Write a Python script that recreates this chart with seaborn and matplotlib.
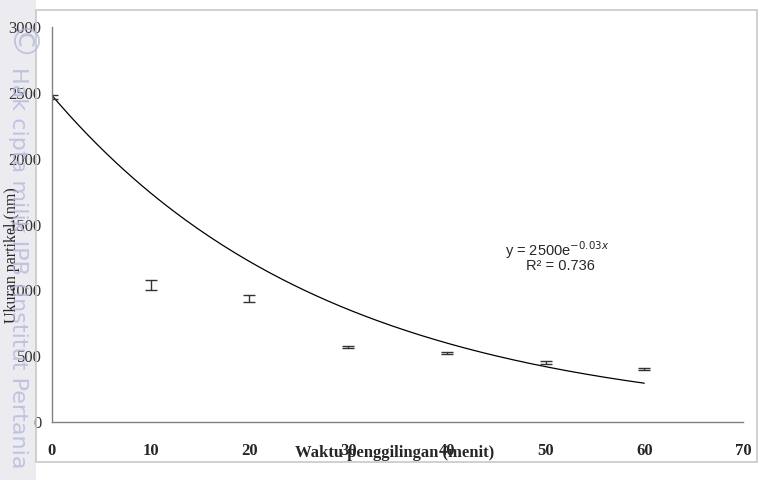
import numpy as np
import pandas as pd
import matplotlib
matplotlib.use("Agg")
import matplotlib.pyplot as plt
import seaborn as sns
from matplotlib.patches import Rectangle

# Data
waktu = [0, 10, 20, 30, 40, 50, 60]
ukuran = [2468, 1040, 938, 570, 524, 450, 403]
galat = [15, 38, 27, 5, 5, 10, 10]

# Exponential trend line as it is drawn in the figure
trend_a = 2480
trend_b = -0.0355
x_ticks = [0, 10, 20, 30, 40, 50, 60, 70]
y_ticks = [0, 500, 1000, 1500, 2000, 2500, 3000]

sns.set_style("white")
plt.rcParams['font.family'] = ['Liberation Serif', 'DejaVu Serif']

fig = plt.figure(figsize=(7.68, 4.8), dpi=100)
ax = fig.add_axes([52 / 768, 1 - 422 / 480, 691 / 768, 395 / 480])

# chart border and watermark strip
fig.patches.append(Rectangle((36 / 768, 18 / 480), 721 / 768, 452 / 480, transform=fig.transFigure,
                             fill=False, edgecolor='#c8c8c8', linewidth=1.2))
fig.patches.append(Rectangle((0, 0), 36 / 768, 1, transform=fig.transFigure,
                             facecolor='#ececf0', edgecolor='none', zorder=-1))
fig.text(18 / 768, 1 - 45 / 480, '©', rotation=-90, ha='center', va='center', fontsize=26,
         color='#b4b8dc', alpha=0.8, family=['DejaVu Sans'], zorder=5)
fig.text(18 / 768, 1 - 268 / 480, 'Hak cipta milik IPB (Institut Pertania', rotation=-90,
         ha='center', va='center', fontsize=16, color='#b4b8dc', alpha=0.8,
         family=['DejaVu Sans'], zorder=5)

xs = np.linspace(0, 60, 200)
df_trend = pd.DataFrame({'x': xs, 'y': trend_a * np.exp(trend_b * xs)})
sns.lineplot(data=df_trend, x='x', y='y', ax=ax, color='black', linewidth=0.9)

ax.errorbar(waktu, ukuran, yerr=galat, fmt='none', ecolor='#333333',
            elinewidth=1, capsize=4, capthick=1)

ax.set_xlim(0, 70)
ax.set_ylim(0, 3000)
ax.set_xticks(x_ticks)
ax.set_yticks(y_ticks)
ax.tick_params(axis='both', labelsize=12, length=4, color='#808080', direction='out')
ax.tick_params(axis='y', labelcolor='#333333')
for lbl in ax.get_xticklabels():
    lbl.set_fontweight('bold')
ax.xaxis.set_tick_params(pad=11)
sns.despine(ax=ax)
for s in ['left', 'bottom']:
    ax.spines[s].set_color('#808080')
    ax.spines[s].set_linewidth(1)

ax.set_xlabel('')
ax.set_ylabel('')
fig.text(395 / 768, 1 - 453 / 480, 'Waktu penggilingan (menit)', ha='center', va='center',
         fontsize=12, fontweight='bold')
fig.text(12 / 768, 1 - 255 / 480, 'Ukuran partikel (nm)', rotation=90, ha='center',
         va='center', fontsize=11.5)

ax.text(557 / 768, 1 - 250 / 480, 'y = 2500e$^{-0.03x}$', transform=fig.transFigure,
        ha='center', va='center', fontsize=10.5, family=['Liberation Sans'])
ax.text(560 / 768, 1 - 266 / 480, 'R² = 0.736', transform=fig.transFigure,
        ha='center', va='center', fontsize=10.5, family=['Liberation Sans'])

fig.savefig('out.png', dpi=100)
